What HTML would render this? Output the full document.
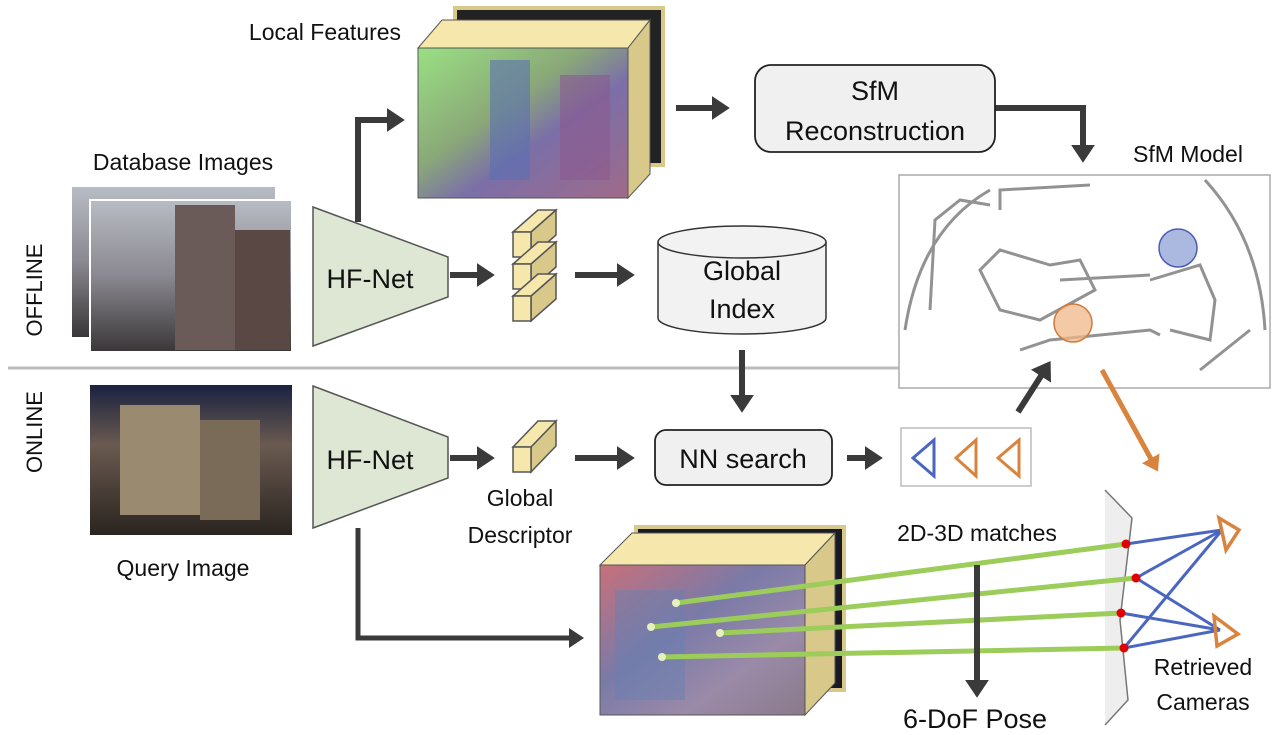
<!DOCTYPE html>
<html><head><meta charset="utf-8"><style>
html,body{margin:0;padding:0;background:#fff;width:1273px;height:735px;overflow:hidden}
svg{display:block}
text{font-family:"Liberation Sans",sans-serif;fill:#111}
</style></head><body>
<svg width="1273" height="735" viewBox="0 0 1273 735" xmlns="http://www.w3.org/2000/svg">
<defs>
<marker id="ah" markerWidth="4" markerHeight="4" refX="2.2" refY="2" orient="auto" markerUnits="strokeWidth"><path d="M0,0 L3,2 L0,4 Z" fill="#3a3a3a"/></marker>
<marker id="aho" markerWidth="4" markerHeight="4" refX="2.2" refY="2" orient="auto" markerUnits="strokeWidth"><path d="M0,0 L3,2 L0,4 Z" fill="#d9843e"/></marker>
<linearGradient id="lf" x1="0" y1="0" x2="1" y2="1"><stop offset="0" stop-color="#9ae083"/><stop offset="0.4" stop-color="#8aa878"/><stop offset="0.6" stop-color="#7b6fa8"/><stop offset="1" stop-color="#a06a8a"/></linearGradient>
<linearGradient id="qf" x1="0" y1="0" x2="1" y2="1"><stop offset="0" stop-color="#c8707a"/><stop offset="0.4" stop-color="#7a7aa8"/><stop offset="0.7" stop-color="#9a8aa8"/><stop offset="1" stop-color="#8a7a8a"/></linearGradient>
<linearGradient id="db" x1="0" y1="0" x2="0" y2="1"><stop offset="0" stop-color="#b8bcc4"/><stop offset="0.5" stop-color="#8a8890"/><stop offset="1" stop-color="#3a3638"/></linearGradient>
<linearGradient id="qi" x1="0" y1="0" x2="0" y2="1"><stop offset="0" stop-color="#1a2240"/><stop offset="0.4" stop-color="#6a5a50"/><stop offset="1" stop-color="#2a2420"/></linearGradient>
</defs>

<line x1="8" y1="368" x2="900" y2="368" stroke="#bdbdbd" stroke-width="3"/>
<text x="0" y="0" font-size="22" transform="translate(42,290) rotate(-90)" text-anchor="middle">OFFLINE</text>
<text x="0" y="0" font-size="22" transform="translate(42,432) rotate(-90)" text-anchor="middle">ONLINE</text>

<text x="183" y="170" font-size="23" text-anchor="middle">Database Images</text>
<rect x="72" y="187" width="203" height="150" fill="url(#db)"/>
<rect x="90" y="200" width="202" height="152" fill="url(#db)" stroke="#fff" stroke-width="2"/>
<rect x="175" y="205" width="60" height="145" fill="#6a5a58"/>
<rect x="235" y="230" width="55" height="120" fill="#5a4844"/>

<rect x="90" y="385" width="202" height="150" fill="url(#qi)"/>
<rect x="120" y="405" width="80" height="110" fill="#9a8a70"/>
<rect x="200" y="420" width="60" height="100" fill="#7a6a58"/>
<text x="183" y="576" font-size="23" text-anchor="middle">Query Image</text>

<polygon points="313,207 448,257 448,297 313,346" fill="#dde7d3" stroke="#555" stroke-width="1.5"/>
<text x="370" y="288" font-size="27" text-anchor="middle">HF-Net</text>
<polygon points="313,386 448,437 448,478 313,528" fill="#dde7d3" stroke="#555" stroke-width="1.5"/>
<text x="370" y="469" font-size="27" text-anchor="middle">HF-Net</text>

<polyline points="358,222 358,120 400,120" fill="none" stroke="#3a3a3a" stroke-width="6" marker-end="url(#ah)"/>
<line x1="450" y1="275" x2="490" y2="275" stroke="#3a3a3a" stroke-width="6" marker-end="url(#ah)"/>
<line x1="575" y1="275" x2="630" y2="275" stroke="#3a3a3a" stroke-width="6" marker-end="url(#ah)"/>
<line x1="676" y1="108" x2="725" y2="108" stroke="#3a3a3a" stroke-width="6" marker-end="url(#ah)"/>
<polyline points="995,108 1083,108 1083,158" fill="none" stroke="#3a3a3a" stroke-width="6" marker-end="url(#ah)"/>

<text x="325" y="40" font-size="23" text-anchor="middle">Local Features</text>
<rect x="455" y="8" width="208" height="157" fill="#222" stroke="#d8c88a" stroke-width="4"/>
<polygon points="418,48 442,20 650,20 628,48" fill="#f6e8ad" stroke="#555" stroke-width="1"/>
<polygon points="628,48 650,20 650,174 628,198" fill="#d8c88a" stroke="#555" stroke-width="1"/>
<rect x="418" y="48" width="210" height="150" fill="url(#lf)" stroke="#555" stroke-width="1"/>
<rect x="490" y="60" width="40" height="120" fill="#5a70b0" opacity="0.6"/>
<rect x="560" y="75" width="50" height="105" fill="#8a5a90" opacity="0.6"/>

<g stroke="#555" stroke-width="1.5">
<polygon points="531,232 556,210 556,235 531,257" fill="#d8c88a"/>
<polygon points="513,232 538,210 556,210 531,232" fill="#f6e8ad"/>
<rect x="513" y="232" width="18" height="25" fill="#f6e8ad"/>
<polygon points="531,264 556,242 556,267 531,289" fill="#d8c88a"/>
<polygon points="513,264 538,242 556,242 531,264" fill="#f6e8ad"/>
<rect x="513" y="264" width="18" height="25" fill="#f6e8ad"/>
<polygon points="531,296 556,274 556,299 531,321" fill="#d8c88a"/>
<polygon points="513,296 538,274 556,274 531,296" fill="#f6e8ad"/>
<rect x="513" y="296" width="18" height="25" fill="#f6e8ad"/>
</g>

<path d="M658,242 L658,318 A84,16 0 0 0 826,318 L826,242" fill="#f2f2f2" stroke="#333" stroke-width="1.5"/>
<ellipse cx="742" cy="242" rx="84" ry="16" fill="#f2f2f2" stroke="#333" stroke-width="1.5"/>
<text x="742" y="280" font-size="27" text-anchor="middle">Global</text>
<text x="742" y="318" font-size="27" text-anchor="middle">Index</text>

<rect x="755" y="65" width="240" height="87" rx="16" fill="#f0f0f0" stroke="#222" stroke-width="1.8"/>
<text x="875" y="100" font-size="27" text-anchor="middle">SfM</text>
<text x="875" y="140" font-size="27" text-anchor="middle">Reconstruction</text>

<text x="1188" y="162" font-size="23" text-anchor="middle">SfM Model</text>
<rect x="899" y="175" width="371" height="213" fill="#fff" stroke="#aaa" stroke-width="1.5"/>
<g fill="none" stroke="#777" stroke-width="3" opacity="0.8">
<path d="M905,330 Q920,230 990,190"/>
<path d="M930,310 L935,220 L960,200 L990,205"/>
<path d="M1000,310 L980,270 L1000,250 L1050,265 L1080,260 L1095,290 L1040,320 Z"/>
<path d="M1020,350 L1050,340 L1150,330 L1160,335"/>
<path d="M1150,280 L1200,265 L1215,300 L1210,340 L1170,330"/>
<path d="M1205,180 Q1260,240 1265,330"/>
<path d="M1000,210 L1000,190 L1090,185"/>
<path d="M1060,280 L1150,275"/>
<path d="M1200,370 L1250,330"/>
</g>
<circle cx="1178" cy="248" r="19" fill="#8fa1d6" fill-opacity="0.75" stroke="#4a5db5" stroke-width="1.5"/>
<circle cx="1073" cy="323" r="19" fill="#f0b888" fill-opacity="0.75" stroke="#d07a3a" stroke-width="1.5"/>

<line x1="450" y1="458" x2="490" y2="458" stroke="#3a3a3a" stroke-width="6" marker-end="url(#ah)"/>
<line x1="742" y1="350" x2="742" y2="408" stroke="#3a3a3a" stroke-width="6" marker-end="url(#ah)"/>
<line x1="575" y1="458" x2="630" y2="458" stroke="#3a3a3a" stroke-width="6" marker-end="url(#ah)"/>
<line x1="847" y1="458" x2="878" y2="458" stroke="#3a3a3a" stroke-width="6" marker-end="url(#ah)"/>
<line x1="1018" y1="412" x2="1048" y2="365" stroke="#3a3a3a" stroke-width="6" marker-end="url(#ah)"/>
<line x1="1102" y1="370" x2="1156" y2="468" stroke="#d9843e" stroke-width="5" marker-end="url(#aho)"/>
<polyline points="358,528 358,638 580,638" fill="none" stroke="#3a3a3a" stroke-width="5" marker-end="url(#ah)"/>

<g stroke="#555" stroke-width="1.5">
<polygon points="531,447 556,421 556,446 531,472" fill="#d8c88a"/>
<polygon points="513,447 538,421 556,421 531,447" fill="#f6e8ad"/>
<rect x="513" y="447" width="18" height="25" fill="#f6e8ad"/>
</g>
<text x="520" y="506" font-size="23" text-anchor="middle">Global</text>
<text x="520" y="543" font-size="23" text-anchor="middle">Descriptor</text>

<rect x="655" y="430" width="177" height="55" rx="11" fill="#f0f0f0" stroke="#222" stroke-width="1.8"/>
<text x="743" y="468" font-size="27" text-anchor="middle">NN search</text>

<rect x="901" y="428" width="130" height="58" fill="#fff" stroke="#bbb" stroke-width="1.5"/>
<polygon points="934,440 934,476 913,458" fill="none" stroke="#4a66c0" stroke-width="3"/>
<polygon points="976,440 976,476 956,458" fill="none" stroke="#d9843e" stroke-width="3"/>
<polygon points="1019,440 1019,476 998,458" fill="none" stroke="#d9843e" stroke-width="3"/>

<rect x="636" y="527" width="208" height="163" fill="#1a1a22" stroke="#d8c88a" stroke-width="4"/>
<polygon points="600,565 632,533 835,533 805,565" fill="#f6e8ad" stroke="#555" stroke-width="1"/>
<polygon points="805,565 835,533 835,683 805,715" fill="#d8c88a" stroke="#555" stroke-width="1"/>
<rect x="600" y="565" width="205" height="150" fill="url(#qf)" stroke="#555" stroke-width="1"/>
<rect x="615" y="590" width="70" height="110" fill="#6a80b0" opacity="0.5"/>

<polygon points="1105,490 1132,518 1120,620 1128,700 1105,725" fill="#eeeeee" stroke="none"/>
<polyline points="1105,490 1132,518 1120,620 1128,700 1105,725" fill="none" stroke="#777" stroke-width="1.5"/>

<g stroke="#9ccc5a" stroke-width="5" stroke-linecap="round">
<line x1="676" y1="603" x2="1126" y2="544"/>
<line x1="651" y1="627" x2="1136" y2="578"/>
<line x1="720" y1="633" x2="1121" y2="613"/>
<line x1="662" y1="657" x2="1124" y2="648"/>
</g>
<g fill="#e8f0c0"><circle cx="676" cy="603" r="4"/><circle cx="651" cy="627" r="4"/><circle cx="720" cy="633" r="4"/><circle cx="662" cy="657" r="4"/></g>

<g stroke="#4a66c0" stroke-width="3">
<line x1="1126" y1="544" x2="1222" y2="530"/>
<line x1="1136" y1="578" x2="1222" y2="530"/>
<line x1="1136" y1="578" x2="1220" y2="630"/>
<line x1="1121" y1="613" x2="1220" y2="630"/>
<line x1="1124" y1="648" x2="1222" y2="530"/>
<line x1="1124" y1="648" x2="1220" y2="630"/>
</g>
<g fill="#e00000"><circle cx="1126" cy="544" r="4.5"/><circle cx="1136" cy="578" r="4.5"/><circle cx="1121" cy="613" r="4.5"/><circle cx="1124" cy="648" r="4.5"/></g>
<polygon points="1219,518 1239,530 1226,550" fill="none" stroke="#d9843e" stroke-width="3.5"/>
<polygon points="1214,616 1238,634 1217,646" fill="none" stroke="#d9843e" stroke-width="3.5"/>

<text x="977" y="541" font-size="23" text-anchor="middle">2D-3D matches</text>
<line x1="977" y1="565" x2="977" y2="693" stroke="#3a3a3a" stroke-width="6" marker-end="url(#ah)"/>
<text x="975" y="728" font-size="27" text-anchor="middle">6-DoF Pose</text>
<text x="1203" y="675" font-size="23" text-anchor="middle">Retrieved</text>
<text x="1203" y="710" font-size="23" text-anchor="middle">Cameras</text>
</svg>
</body></html>
